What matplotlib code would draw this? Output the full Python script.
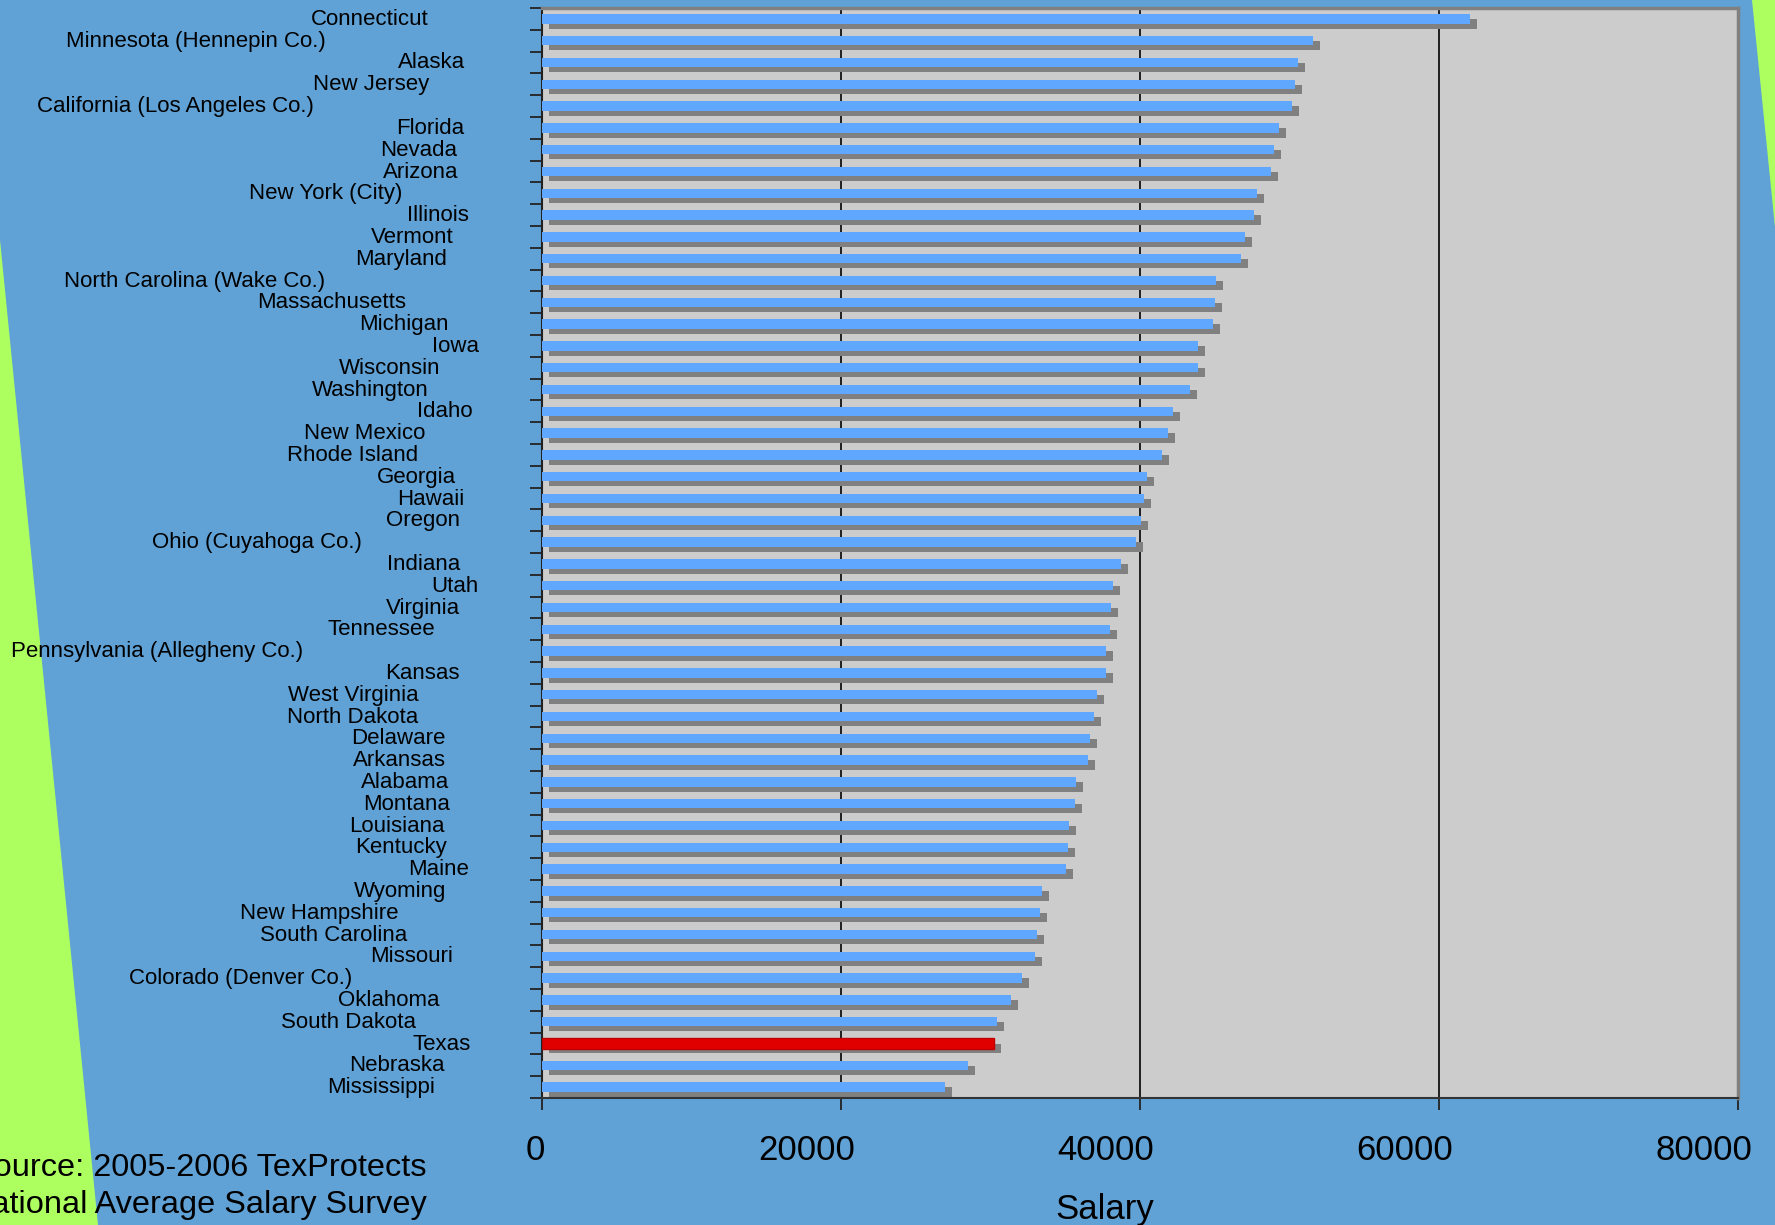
import numpy as np
import matplotlib
matplotlib.use("Agg")
import matplotlib.pyplot as plt
import matplotlib.transforms as mtransforms
from matplotlib.patches import Polygon

# DATA
states = ["Connecticut", "Minnesota (Hennepin Co.)", "Alaska", "New Jersey",
          "California (Los Angeles Co.)", "Florida", "Nevada", "Arizona",
          "New York (City)", "Illinois", "Vermont", "Maryland",
          "North Carolina (Wake Co.)", "Massachusetts", "Michigan", "Iowa",
          "Wisconsin", "Washington", "Idaho", "New Mexico", "Rhode Island",
          "Georgia", "Hawaii", "Oregon", "Ohio (Cuyahoga Co.)", "Indiana", "Utah",
          "Virginia", "Tennessee", "Pennsylvania (Allegheny Co.)", "Kansas",
          "West Virginia", "North Dakota", "Delaware", "Arkansas", "Alabama",
          "Montana", "Louisiana", "Kentucky", "Maine", "Wyoming", "New Hampshire",
          "South Carolina", "Missouri", "Colorado (Denver Co.)", "Oklahoma",
          "South Dakota", "Texas", "Nebraska", "Mississippi"]
salaries = [62100, 51600, 50600, 50400, 50200, 49300, 48950, 48750,
            47800, 47650, 47050, 46750, 45100, 45000, 44850, 43850,
            43850, 43350, 42200, 41900, 41450, 40500, 40300, 40100,
            39700, 38700, 38200, 38050, 38000, 37750, 37700, 37100,
            36900, 36650, 36550, 35750, 35650, 35250, 35200, 35050,
            33450, 33300, 33100, 33000, 32100, 31400, 30450, 30250,
            28500, 26950]
highlight = "Texas"
xticks = [0, 20000, 40000, 60000, 80000]
source_lines = ["Source: 2005-2006 TexProtects", "National Average Salary Survey"]

W, H, DPI = 1775, 1225, 100
plt.rcParams["font.family"] = ["Liberation Sans", "DejaVu Sans"]

BG = "#60a2d6"
fig = plt.figure(figsize=(W / DPI, H / DPI), dpi=DPI, facecolor=BG)

# green slivers at the page edges (behind everything else)
for pts in ([(0, 1 - 240 / H), (98 / W, 0), (0, 0)],
            [(1752 / W, 1), (1, 1), (1, 1 - 227 / H)]):
    fig.patches.append(Polygon(pts, closed=True, transform=fig.transFigure,
                               facecolor="#adff60", edgecolor="none", zorder=-1))

ax = fig.add_axes([542 / W, 1 - 1098 / H, (1738 - 542) / W, (1098 - 8) / H])
ax.set_facecolor("#cccccc")

y = np.arange(len(states))
colors = ["#e00000" if s == highlight else "#60a8ff" for s in states]

# grey drop shadow, shifted right and down
shadow = ax.barh(y, salaries, height=0.44, color="#808080", zorder=2)
off = mtransforms.ScaledTranslation(7 / DPI, -5 / DPI, fig.dpi_scale_trans)
for r in shadow:
    r.set_transform(ax.transData + off)
bars = ax.barh(y, salaries, height=0.44, color=colors, zorder=3)
for b, s in zip(bars, states):
    if s == highlight:
        b.set_height(0.5)
        b.set_y(b.get_y() - 0.03)
        b.set_edgecolor("#c00000")
        b.set_linewidth(1)

ax.set_xlim(0, 80000)
ax.set_ylim(len(states) - 0.5, -0.5)
ax.set_xticks(xticks)
ax.set_xticklabels([])
ax.set_yticks(np.arange(len(states) + 1) - 0.5)
ax.set_yticklabels([])
ax.tick_params(axis="both", direction="out", length=8.3, width=1.3, color="#222222")
ax.xaxis.grid(True, color="#111111", lw=1.3)
ax.set_axisbelow(True)
for side in ["top", "right"]:
    ax.spines[side].set_color("#808080")
    ax.spines[side].set_linewidth(2.5)
ax.spines["left"].set_color("#222222")
ax.spines["left"].set_linewidth(1.5)
ax.spines["bottom"].set_color("#333333")
ax.spines["bottom"].set_linewidth(1.5)

# labels (left edge pulled back by a multiple of their width, like the original)
blend = mtransforms.blended_transform_factory(fig.transFigure, ax.transData)
down = mtransforms.ScaledTranslation(0, -6 / DPI, fig.dpi_scale_trans)
ylabels = [ax.text(0, yi, s, transform=blend + down, ha="left", va="baseline",
                   fontsize=16, color="black") for yi, s in zip(y, states)]
xlabels = [fig.text(0, 1 - 1160 / H, str(v), ha="left", va="baseline",
                    fontsize=25, color="black") for v in xticks]
salary = fig.text(0, 1 - 1219 / H, "Salary", ha="left", va="baseline",
                  fontsize=25, color="black")
fig.text(427 / W, 1 - 1176 / H, source_lines[0], ha="right", va="baseline", fontsize=23.4)
fig.text(427 / W, 1 - 1213 / H, source_lines[1], ha="right", va="baseline", fontsize=23.4)

fig.canvas.draw()
rend = fig.canvas.get_renderer()
for t in ylabels:
    w = t.get_window_extent(rend).width
    t.set_x(max(10, 513 - 1.72 * w) / W)
for t, v in zip(xlabels, xticks):
    w = t.get_window_extent(rend).width
    px = ax.transData.transform((v, 0))[0]
    t.set_x((px - 0.854 * w) / W)
w = salary.get_window_extent(rend).width
salary.set_x((ax.transAxes.transform((0.5, 0))[0] - 0.854 * w) / W)

fig.savefig("out.png", dpi=DPI, facecolor=BG)
